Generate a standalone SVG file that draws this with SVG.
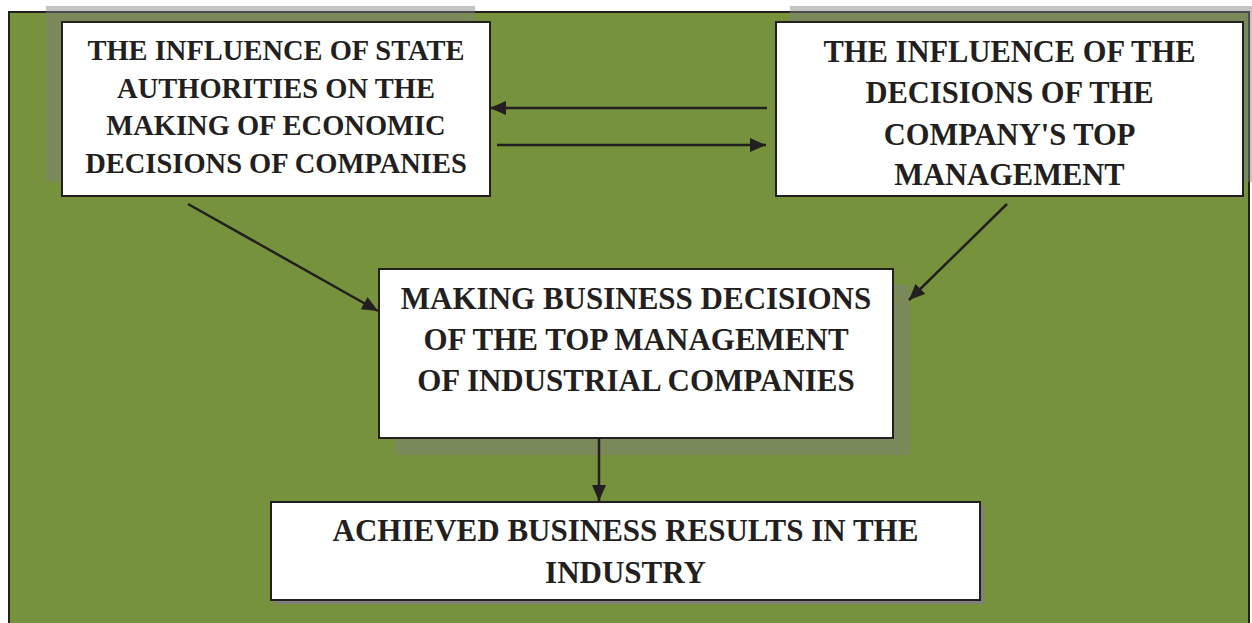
<svg xmlns="http://www.w3.org/2000/svg" width="1252" height="623" viewBox="0 0 1252 623">
  <defs>
    <style>
      .box { fill: #ffffff; stroke: #231f20; stroke-width: 2; }
      .shadow { fill: #7f7f7f; fill-opacity: 0.45; }
      .shadow2 { fill: #7f7f7f; }
      .t { font-family: "Liberation Serif", "Times New Roman", serif; font-weight: bold; fill: #231f20; text-anchor: middle; }
      .conn { stroke: #231f20; stroke-width: 2.5; fill: none; marker-end: url(#arrow); }
    </style>
    <marker id="arrow" markerUnits="userSpaceOnUse" markerWidth="18" markerHeight="14" refX="16" refY="7" orient="auto">
      <path d="M0,0 L16,7 L0,14 z" fill="#231f20"/>
    </marker>
  </defs>

  <rect x="0" y="0" width="1252" height="623" fill="#ffffff"/>
  <rect id="frame" x="9" y="12" width="1240" height="620" fill="#76923c" stroke="#231f20" stroke-width="2"/>

  <g id="node-state">
    <rect class="shadow" x="46" y="6" width="429" height="176"/>
    <rect class="box" x="62" y="22" width="428" height="174"/>
    <text class="t" font-size="28.5" x="276" y="60">THE INFLUENCE OF STATE</text>
    <text class="t" font-size="28.5" x="276" y="98">AUTHORITIES ON THE</text>
    <text class="t" font-size="28.5" x="276" y="135">MAKING OF ECONOMIC</text>
    <text class="t" font-size="28.5" x="276" y="173">DECISIONS OF COMPANIES</text>
  </g>

  <g id="node-topmgmt">
    <rect class="shadow" x="790" y="6" width="470" height="176"/>
    <rect class="box" x="776" y="22" width="467" height="174"/>
    <text class="t" font-size="30.5" x="1009.5" y="62">THE INFLUENCE OF THE</text>
    <text class="t" font-size="30.5" x="1009.5" y="103">DECISIONS OF THE</text>
    <text class="t" font-size="30.5" x="1009.5" y="145">COMPANY'S TOP</text>
    <text class="t" font-size="30.5" x="1009.5" y="185">MANAGEMENT</text>
  </g>

  <g id="node-making">
    <rect class="shadow" x="395" y="285" width="515" height="170"/>
    <rect class="box" x="379" y="269" width="514" height="169"/>
    <text class="t" font-size="31" x="636" y="309">MAKING BUSINESS DECISIONS</text>
    <text class="t" font-size="31" x="636" y="350">OF THE TOP MANAGEMENT</text>
    <text class="t" font-size="31" x="636" y="391">OF INDUSTRIAL COMPANIES</text>
  </g>

  <g id="node-results">
    <rect class="shadow2" x="275" y="506" width="709" height="98"/>
    <rect class="box" x="271" y="502" width="709" height="98"/>
    <text class="t" font-size="31" x="625.5" y="541">ACHIEVED BUSINESS RESULTS IN THE</text>
    <text class="t" font-size="31" x="625.5" y="583">INDUSTRY</text>
  </g>

  <g id="connectors">
    <line class="conn" x1="767" y1="108" x2="490" y2="108"/>
    <line class="conn" x1="497" y1="145" x2="766" y2="145"/>
    <line class="conn" x1="188" y1="204" x2="378" y2="311"/>
    <line class="conn" x1="1007" y1="204" x2="909" y2="300"/>
    <line class="conn" x1="599" y1="438" x2="599" y2="501"/>
  </g>
</svg>
